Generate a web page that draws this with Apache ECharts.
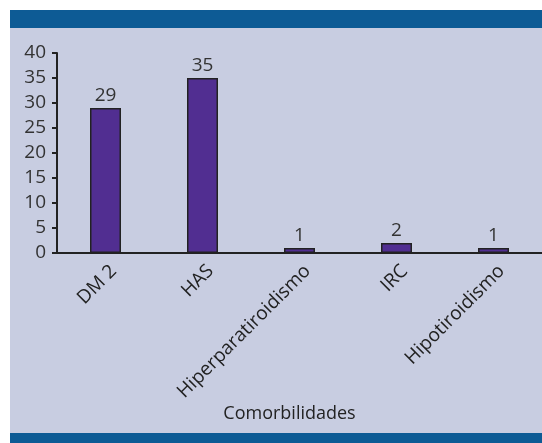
<!DOCTYPE html>
<html>
<head>
<meta charset="utf-8">
<script src="https://cdn.jsdelivr.net/npm/echarts@6/dist/echarts.min.js"></script>
<style>
  html, body { margin: 0; padding: 0; background: #fff; }
  #chart { width: 542px; height: 443px; }
</style>
</head>
<body>
<div id="chart"></div>
<script>
const categories = ['DM 2', 'HAS', 'Hiperparatiroidismo', 'IRC', 'Hipotiroidismo']
const values = [29, 35, 1, 2, 1]
const yTicks = [0, 5, 10, 15, 20, 25, 30, 35, 40]

const font = '"Open Sans", Lato, sans-serif'
const chart = echarts.init(document.getElementById('chart'))

const option = {
  animation: false,
  graphic: [
    // fondo lila y franjas azules
    { type: 'rect', z: -10, shape: { x: 10, y: 28, width: 532, height: 405 }, style: { fill: '#c8cde1' } },
    { type: 'rect', z: -10, shape: { x: 10, y: 10, width: 532, height: 18 }, style: { fill: '#0d5b95' } },
    { type: 'rect', z: -10, shape: { x: 10, y: 433, width: 532, height: 10 }, style: { fill: '#0d5b95' } }
  ],
  grid: { left: 57, right: 0, top: 53, height: 200 },
  xAxis: {
    type: 'category',
    data: categories,
    name: 'Comorbilidades',
    nameLocation: 'middle',
    nameGap: 147,
    nameTextStyle: { fontFamily: font, fontSize: 18, color: '#222', padding: [0, 20, 0, 0] },
    axisLine: { lineStyle: { color: '#222', width: 2 } },
    axisTick: { show: false },
    axisLabel: {
      rotate: 45, margin: 7, verticalAlign: 'top', padding: [2, 0, 0, 0],
      fontFamily: font, fontSize: 19, color: '#222', interval: 0
    }
  },
  yAxis: {
    type: 'value',
    min: 0,
    max: 40,
    interval: 5,
    splitLine: { show: false },
    axisLine: { show: true, lineStyle: { color: '#222', width: 2 } },
    axisTick: { show: true, length: 5, lineStyle: { color: '#222', width: 2 } },
    axisLabel: {
      fontFamily: font, fontSize: 19, color: '#333', margin: 11,
      formatter: v => yTicks.includes(v) ? String(v) : ''
    }
  },
  series: [{
    type: 'bar',
    data: values,
    barWidth: 31,
    itemStyle: { color: '#512e91', borderColor: '#222', borderWidth: 1.5 },
    label: { show: true, position: 'top', distance: 3, fontFamily: font, fontSize: 19, color: '#333' }
  }]
}
chart.setOption(option)
</script>
</body>
</html>
